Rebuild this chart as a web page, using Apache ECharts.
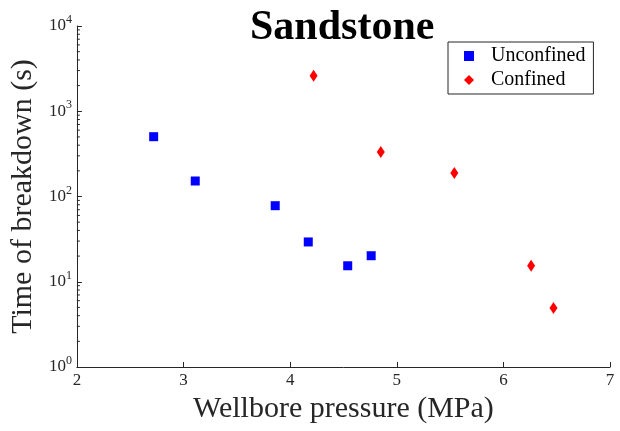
<!DOCTYPE html>
<html>
<head>
<meta charset="utf-8">
<script src="https://cdn.jsdelivr.net/npm/echarts@6/dist/echarts.min.js"></script>
<style>
  html, body { margin: 0; padding: 0; background: #fff; }
  #chart { width: 620px; height: 431px; }
</style>
</head>
<body>
<div id="chart"></div>
<script>
// Breakdown time versus wellbore pressure for sandstone samples
const unconfinedPressure = [2.72, 3.11, 3.86, 4.17, 4.54, 4.76];
const unconfinedTime     = [503, 152, 78, 29.3, 15.4, 20.2];
const confinedPressure   = [4.22, 4.85, 5.54, 6.26, 6.47];
const confinedTime       = [2612, 333, 189, 15.4, 4.92];

const xTicks = [2, 3, 4, 5, 6, 7];
const yDecades = [1, 10, 100, 1000, 10000];
const yMinorTicks = [];
for (let d = 0; d < yDecades.length - 1; d++) {
  for (let k = 2; k <= 9; k++) yMinorTicks.push(k * yDecades[d]);
}

const FONT = '"Liberation Serif", "Times New Roman", serif';
const AXIS_COLOR = '#262626';

const chart = echarts.init(document.getElementById('chart'), null, { renderer: 'canvas' });

chart.setOption({
  animation: false,
  backgroundColor: '#ffffff',
  title: {
    text: 'Sandstone',
    left: 245,
    top: 2,
    textStyle: { fontFamily: FONT, fontSize: 42, fontWeight: 'bold', color: '#000' }
  },
  legend: {
    orient: 'vertical',
    left: 448,
    top: 42,
    width: 145,
    padding: [4, 8, 4, 16],
    itemGap: 4,
    itemWidth: 10,
    itemHeight: 10,
    borderColor: AXIS_COLOR,
    borderWidth: 1,
    backgroundColor: '#fff',
    textStyle: { fontFamily: FONT, fontSize: 20, color: '#000', padding: [0, 0, 0, 12] },
    data: [
      { name: 'Unconfined', icon: 'rect' },
      { name: 'Confined', icon: 'diamond' }
    ]
  },
  grid: { left: 76, right: 10, top: 26, bottom: 64, containLabel: false },
  xAxis: {
    type: 'value',
    min: xTicks[0],
    max: xTicks[xTicks.length - 1],
    interval: 1,
    name: 'Wellbore pressure (MPa)',
    nameLocation: 'middle',
    nameGap: 25,
    nameTextStyle: { fontFamily: FONT, fontSize: 30, color: AXIS_COLOR },
    axisLine: { show: true, lineStyle: { color: AXIS_COLOR, width: 1 } },
    axisTick: { show: true, inside: true, length: 5, lineStyle: { color: AXIS_COLOR } },
    axisLabel: { fontFamily: FONT, fontSize: 17, color: AXIS_COLOR, margin: 5 },
    splitLine: { show: false }
  },
  yAxis: {
    type: 'log',
    logBase: 10,
    min: yDecades[0],
    max: yDecades[yDecades.length - 1],
    name: 'Time of breakdown (s)',
    nameLocation: 'middle',
    nameGap: 26,
    nameTextStyle: { fontFamily: FONT, fontSize: 30, color: AXIS_COLOR },
    axisLine: { show: true, lineStyle: { color: AXIS_COLOR, width: 1 } },
    axisTick: { show: true, inside: true, length: 5, lineStyle: { color: AXIS_COLOR } },
    axisLabel: {
      margin: 5,
      formatter: function (v) {
        const e = Math.round(Math.log10(v));
        return '{b|10}{s|' + e + '}';
      },
      rich: {
        b: { fontFamily: FONT, fontSize: 17, color: AXIS_COLOR },
        s: { fontFamily: FONT, fontSize: 12, color: AXIS_COLOR, padding: [0, 0, 12, 0] }
      }
    },
    splitLine: { show: false }
  },
  series: [
    {
      name: 'Unconfined',
      type: 'scatter',
      symbol: 'rect',
      symbolSize: 9,
      itemStyle: { color: '#0000ff', opacity: 1 },
      data: unconfinedPressure.map((p, i) => [p, unconfinedTime[i]]),
      z: 3
    },
    {
      name: 'Confined',
      type: 'scatter',
      symbol: 'diamond',
      symbolSize: [8, 12],
      itemStyle: { color: '#ff0000', opacity: 1 },
      data: confinedPressure.map((p, i) => [p, confinedTime[i]]),
      z: 3
    },
    {
      // minor ticks of the logarithmic axis, drawn inside the plot
      type: 'custom',
      silent: true,
      legendHoverLink: false,
      renderItem: function (params, api) {
        const pt = api.coord([xTicks[0], api.value(1)]);
        return {
          type: 'line',
          shape: { x1: pt[0], y1: pt[1], x2: pt[0] + 3, y2: pt[1] },
          style: { stroke: AXIS_COLOR, lineWidth: 1 }
        };
      },
      data: yMinorTicks.map(v => [xTicks[0], v]),
      z: 1
    }
  ]
});
</script>
</body>
</html>
